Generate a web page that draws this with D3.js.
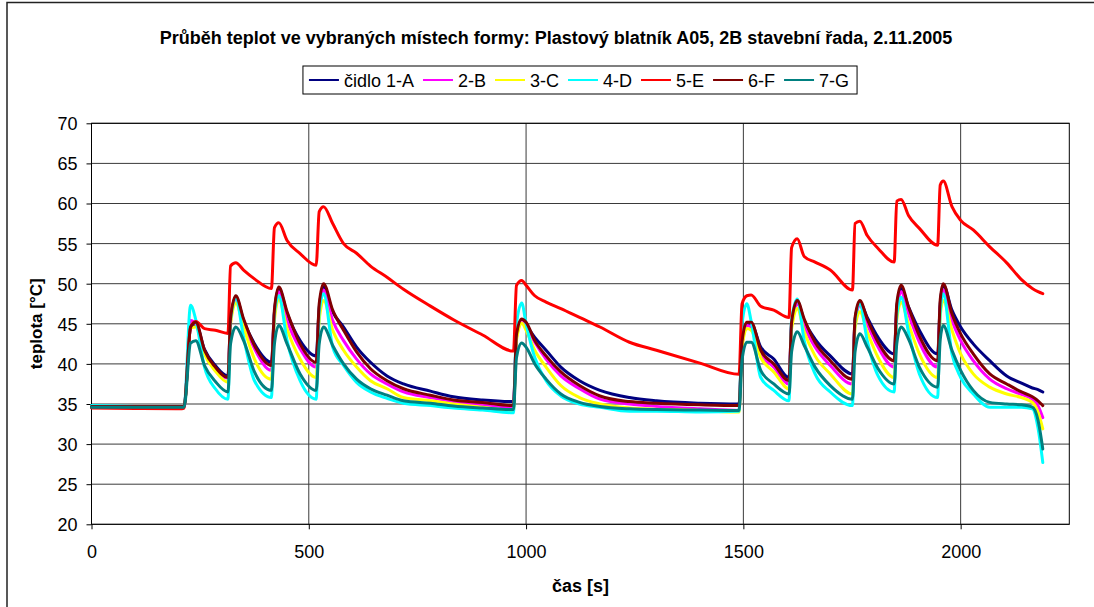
<!DOCTYPE html>
<html>
<head>
<meta charset="utf-8">
<script src="https://cdn.jsdelivr.net/npm/d3@7"></script>
<style>
  html, body { margin: 0; padding: 0; background: #fff; }
  svg { display: block; font-family: "Liberation Sans", Arial, sans-serif; }
</style>
</head>
<body>
<svg id="chart" width="1094" height="607"></svg>
<script>
// Measurement times [s]
const seconds = [
  0, 100, 208, 213,
  228, 240, 260, 285, 314,
  320, 332, 350, 375, 414,
  421, 431, 450, 480, 517,
  524, 534, 555, 580, 610, 642, 680, 718, 780, 833, 900, 971,
  978, 990, 1000, 1020, 1046, 1080, 1123, 1170, 1238, 1300, 1400, 1490,
  1497, 1508, 1518, 1540, 1570, 1605,
  1611, 1624, 1640, 1665, 1700, 1751,
  1757, 1768, 1785, 1810, 1847,
  1853, 1863, 1880, 1905, 1947,
  1953, 1960, 1980, 2000, 2029, 2067, 2106, 2140, 2165, 2178, 2189
];

// Temperatures [°C] per sensor
const cidlo1A = [
  34.7, 34.7, 34.7, 34.7,
  44.5, 45.0, 41.8, 39.8, 38.5,
  45.5, 48.3, 45.4, 42.5, 40.2,
  46.5, 49.4, 46.3, 42.9, 41.0,
  47.0, 49.6, 46.5, 44.6, 42.1, 40.2, 38.5, 37.5, 36.6, 35.9, 35.5, 35.3,
  43.5, 45.4, 44.8, 43.3, 41.7, 39.6, 37.9, 36.7, 35.8, 35.4, 35.1, 35.0,
  42.5, 45.0, 45.0, 42.1, 40.6, 38.3,
  45.0, 47.7, 45.4, 43.1, 41.0, 38.75,
  45.5, 47.7, 45.8, 43.3, 41.25,
  47.0, 49.4, 47.1, 44.2, 41.25,
  47.5, 49.8, 46.7, 44.6, 42.5, 40.4, 38.5, 37.6, 37.0, 36.8, 36.5
];
const cidlo2B = [
  34.6, 34.6, 34.6, 34.6,
  45.4, 45.0, 41.5, 39.4, 38.2,
  45.3, 48.1, 45.0, 41.9, 39.2,
  46.2, 49.0, 45.4, 41.9, 39.6,
  46.5, 49.2, 45.4, 42.9, 40.6, 38.75, 37.5, 36.5, 35.8, 35.3, 34.9, 34.6,
  43.3, 45.2, 44.6, 42.7, 40.6, 38.5, 36.9, 35.6, 35.0, 34.7, 34.4, 34.2,
  42.3, 44.8, 44.6, 41.3, 39.6, 37.5,
  44.8, 47.5, 44.8, 42.1, 39.8, 37.5,
  45.3, 47.3, 45.0, 42.1, 39.6,
  46.5, 49.0, 46.25, 42.7, 39.6,
  47.0, 49.2, 45.4, 42.9, 40.4, 38.1, 36.9, 36.2, 35.6, 34.8, 33.3
];
const cidlo3C = [
  34.6, 34.6, 34.6, 34.6,
  44.5, 44.6, 41.2, 39.1, 37.7,
  45.0, 47.6, 44.6, 40.6, 38.1,
  45.5, 48.1, 44.4, 40.6, 38.3,
  45.5, 47.9, 44.2, 41.7, 39.6, 37.9, 36.9, 35.8, 35.4, 35.0, 34.6, 34.2,
  43.0, 45.1, 44.2, 41.7, 39.6, 37.3, 35.8, 35.0, 34.5, 34.35, 34.2, 34.0,
  42.0, 44.4, 44.2, 40.8, 39.0, 36.9,
  44.3, 46.9, 44.0, 41.0, 38.75, 36.25,
  44.5, 46.5, 44.0, 40.8, 38.3,
  45.5, 47.7, 45.0, 41.25, 38.3,
  46.0, 47.9, 44.2, 41.25, 38.75, 37.1, 36.25, 35.8, 35.2, 34.0, 31.9
];
const cidlo4D = [
  34.8, 34.7, 34.7, 34.7,
  47.3, 45.5, 39.6, 36.9, 35.6,
  45.5, 48.2, 43.3, 37.9, 35.8,
  46.3, 48.5, 42.9, 37.9, 35.6,
  46.5, 48.75, 42.1, 39.8, 37.7, 36.5, 35.7, 35.1, 34.8, 34.5, 34.25, 33.9,
  45.0, 47.6, 45.0, 40.8, 37.9, 36.0, 35.0, 34.6, 34.1, 34.1, 34.0, 34.1,
  45.0, 47.5, 45.3, 38.3, 36.7, 35.4,
  45.5, 48.1, 42.9, 38.75, 36.5, 34.8,
  45.5, 47.5, 42.9, 38.5, 36.5,
  46.0, 48.3, 44.0, 38.75, 35.8,
  46.5, 48.75, 41.25, 38.3, 36.25, 34.6, 34.6, 34.6, 34.4, 32.0, 27.7
];
const cidlo5E = [
  34.5, 34.45, 34.4, 34.5,
  44.6, 45.3, 44.4, 44.2, 43.8,
  52.2, 52.6, 51.7, 50.6, 49.4,
  57.0, 57.6, 55.4, 53.75, 52.3,
  59.0, 59.6, 57.5, 55.0, 53.8, 52.2, 50.8, 49.3, 47.2, 45.5, 43.6, 41.6,
  49.8, 50.4, 49.8, 48.5, 47.7, 46.9, 45.8, 44.6, 42.7, 41.7, 40.1, 38.7,
  47.5, 48.5, 48.6, 47.2, 46.7, 45.8,
  54.5, 55.6, 53.4, 52.7, 51.7, 49.2,
  57.5, 57.8, 56.0, 54.4, 52.7,
  60.3, 60.5, 58.5, 56.9, 54.8,
  62.3, 62.8, 59.6, 57.9, 56.7, 54.6, 52.6, 50.5, 49.4, 49.0, 48.75
];
const cidlo6F = [
  34.7, 34.7, 34.7, 34.7,
  44.6, 45.2, 41.7, 39.6, 38.3,
  45.7, 48.5, 45.6, 42.3, 39.8,
  46.8, 49.6, 46.5, 42.5, 40.2,
  47.5, 50.0, 46.7, 44.2, 41.5, 39.4, 37.9, 36.9, 36.1, 35.5, 35.2, 34.8,
  43.7, 45.6, 45.2, 42.9, 41.0, 39.0, 37.3, 36.0, 35.3, 35.1, 34.9, 34.8,
  42.8, 45.2, 45.2, 41.7, 40.0, 37.9,
  45.2, 47.9, 45.6, 42.7, 40.4, 38.1,
  45.8, 47.9, 45.6, 42.7, 40.4,
  47.5, 49.8, 47.1, 43.5, 40.4,
  48.0, 50.0, 46.25, 43.75, 41.25, 38.75, 37.5, 36.5, 35.9, 35.4, 34.8
];
const cidlo7G = [
  34.6, 34.6, 34.6, 34.6,
  42.6, 42.9, 39.8, 37.8, 36.5,
  42.5, 44.6, 42.9, 39.0, 36.7,
  42.5, 44.8, 42.5, 38.75, 36.7,
  42.5, 44.6, 42.3, 40.0, 38.1, 36.9, 36.1, 35.4, 35.1, 34.75, 34.5, 34.3,
  40.8, 42.6, 42.1, 40.0, 38.1, 36.25, 35.2, 34.7, 34.4, 34.3, 34.25, 34.2,
  40.5, 42.7, 42.7, 39.2, 37.5, 36.25,
  41.5, 44.0, 42.3, 39.6, 37.3, 35.6,
  41.5, 43.75, 42.1, 39.4, 37.5,
  42.5, 44.6, 43.1, 39.6, 37.1,
  43.0, 44.8, 41.7, 39.2, 36.7, 35.2, 35.0, 34.9, 34.6, 33.0, 29.4
];

const seriesNames = ["čidlo 1-A", "2-B", "3-C", "4-D", "5-E", "6-F", "7-G"];
const seriesValues = [cidlo1A, cidlo2B, cidlo3C, cidlo4D, cidlo5E, cidlo6F, cidlo7G];
const seriesColors = ["#000080", "#FF00FF", "#FFFF00", "#00FFFF", "#FF0000", "#800000", "#008080"];

const xTicks = [0, 500, 1000, 1500, 2000];
const yTicks = [20, 25, 30, 35, 40, 45, 50, 55, 60, 65, 70];

const titleText = "Průběh teplot ve vybraných místech formy: Plastový blatník A05, 2B stavební řada, 2.11.2005";
const xTitle = "čas [s]";
const yTitle = "teplota [°C]";

// ---- layout ----
const svg = d3.select("#chart");
const plot = { left: 91.5, right: 1069.3, top: 123.3, bottom: 524.3 };

const x = d3.scaleLinear().domain([0, 2250]).range([plot.left, plot.right]);
const y = d3.scaleLinear().domain([20, 70]).range([plot.bottom, plot.top]);

// chart frame
svg.append("rect")
  .attr("x", 7).attr("y", 2.5)
  .attr("width", 1200).attr("height", 800)
  .attr("fill", "#fff").attr("stroke", "#222").attr("stroke-width", 1.5);

// gridlines
const grid = svg.append("g").attr("stroke", "#3a3a3a").attr("stroke-width", 1);
grid.selectAll("line.h").data(yTicks).join("line")
  .attr("x1", plot.left).attr("x2", plot.right)
  .attr("y1", d => y(d)).attr("y2", d => y(d));
grid.selectAll("line.v").data(xTicks.filter(d => d > 0)).join("line")
  .attr("y1", plot.top).attr("y2", plot.bottom)
  .attr("x1", d => x(d)).attr("x2", d => x(d));

// plot-area border
svg.append("rect")
  .attr("x", plot.left).attr("y", plot.top)
  .attr("width", plot.right - plot.left).attr("height", plot.bottom - plot.top)
  .attr("fill", "none").attr("stroke", "#000").attr("stroke-width", 1);

// axes
const xAxis = svg.append("g")
  .attr("transform", `translate(0,${plot.bottom})`)
  .call(d3.axisBottom(x).tickValues(xTicks).tickSize(5).tickPadding(16).tickFormat(d3.format("d")));
const yAxis = svg.append("g")
  .attr("transform", `translate(${plot.left},0)`)
  .call(d3.axisLeft(y).tickValues(yTicks).tickSize(5).tickPadding(9).tickFormat(d3.format("d")));
[xAxis, yAxis].forEach(a => {
  a.select(".domain").remove();
  a.selectAll(".tick line").attr("stroke", "#000");
  a.selectAll(".tick text")
    .attr("fill", "#000")
    .style("font-family", '"Liberation Sans", Arial, sans-serif')
    .style("font-size", "18px");
});
yAxis.selectAll(".tick text").attr("dy", "0.36em");

// sensor curves
const line = d3.line()
  .x((d, i) => x(seconds[i]))
  .y(d => y(d))
  .curve(d3.curveMonotoneX);

svg.append("g")
  .selectAll("path")
  .data(seriesValues)
  .join("path")
  .attr("d", d => line(d))
  .attr("fill", "none")
  .attr("stroke", (d, i) => seriesColors[i])
  .attr("stroke-width", 3)
  .attr("stroke-linejoin", "round")
  .attr("stroke-linecap", "round");

// title
svg.append("text")
  .attr("x", 556).attr("y", 44)
  .attr("text-anchor", "middle")
  .style("font-weight", "bold")
  .style("font-size", "18px")
  .text(titleText);

// axis titles
svg.append("text")
  .attr("x", (plot.left + plot.right) / 2).attr("y", 592)
  .attr("text-anchor", "middle")
  .style("font-weight", "bold")
  .style("font-size", "18px")
  .text(xTitle);

svg.append("text")
  .attr("transform", `translate(42,${(plot.top + plot.bottom) / 2}) rotate(-90)`)
  .attr("text-anchor", "middle")
  .style("font-weight", "bold")
  .style("font-size", "17px")
  .text(yTitle);

// legend
const legend = svg.append("g");
const legendBox = legend.append("rect")
  .attr("fill", "#fff").attr("stroke", "#000").attr("stroke-width", 1);
const lgY = 80;
let cursor = 0;
const items = [];
seriesNames.forEach((name, i) => {
  const g = legend.append("g");
  g.append("line")
    .attr("x1", cursor).attr("x2", cursor + 30)
    .attr("y1", lgY).attr("y2", lgY)
    .attr("stroke", seriesColors[i]).attr("stroke-width", 2);
  const t = g.append("text")
    .attr("x", cursor + 35).attr("y", lgY + 6.5)
    .style("font-size", "18px")
    .text(name);
  cursor += 35 + t.node().getComputedTextLength() + 9;
  items.push(g);
});
const contentW = cursor - 9;
const boxW = contentW + 14;
const boxLeft = 580 - boxW / 2;
items.forEach(g => g.attr("transform", `translate(${boxLeft + 6},0)`));
legendBox.attr("x", boxLeft).attr("y", 66).attr("width", boxW).attr("height", 28);
</script>
</body>
</html>
